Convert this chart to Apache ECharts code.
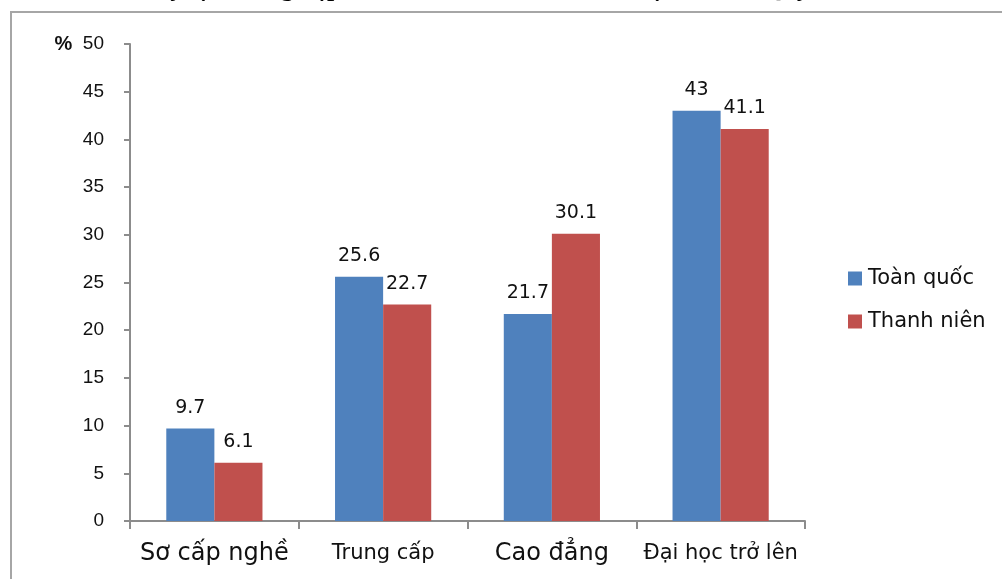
<!DOCTYPE html>
<html>
<head>
<meta charset="utf-8">
<script src="https://cdn.jsdelivr.net/npm/echarts@6/dist/echarts.min.js"></script>
<style>
  html, body { margin: 0; padding: 0; background: #fff; }
  #chart { width: 1002px; height: 579px; }
</style>
</head>
<body>
<div id="chart"></div>
<script>
// Trình độ chuyên môn kỹ thuật
const categories = ['Sơ cấp nghề', 'Trung cấp', 'Cao đẳng', 'Đại học trở lên'];
// Tỷ lệ (%)
const toanQuoc = [9.7, 25.6, 21.7, 43];
const thanhNien = [6.1, 22.7, 30.1, 41.1];
const seriesNames = ['Toàn quốc', 'Thanh niên'];
const yTicks = [0, 5, 10, 15, 20, 25, 30, 35, 40, 45, 50];

const chart = echarts.init(document.getElementById('chart'), null, { renderer: 'canvas' });
const wide = '"DejaVu Sans", sans-serif';
const narrow = '"Liberation Sans", sans-serif';

const labelStyle = {
  show: true,
  position: 'top',
  distance: 11,
  color: '#111',
  fontSize: 19,
  fontFamily: wide
};

chart.setOption({
  animation: false,
  backgroundColor: '#fff',
  graphic: [
    {
      type: 'text',
      left: 62,
      top: -24,
      style: {
        text: 'Hình 3: Tỷ lệ thất nghiệp của thanh niên theo trình độ CMKT, Quý 4 năm 2019',
        font: 'bold 26px "Liberation Serif", serif',
        fill: '#000'
      }
    },
    {
      type: 'rect',
      shape: { x: 11, y: 12, width: 1010, height: 600 },
      style: { fill: 'none', stroke: '#a6a6a6', lineWidth: 2 }
    }
  ],
  legend: {
    orient: 'vertical',
    left: 843,
    top: 263,
    itemGap: 22,
    itemWidth: 14,
    itemHeight: 14,
    icon: 'rect',
    textStyle: { fontSize: 21, color: '#111', fontFamily: wide, padding: [0, 0, 0, 1] },
    data: seriesNames
  },
  grid: { left: 130, right: 197, top: 44, bottom: 58, containLabel: false },
  xAxis: {
    type: 'category',
    data: categories,
    axisLine: { lineStyle: { color: '#8c8c8c', width: 2 } },
    axisTick: { show: true, interval: 0, length: 8, lineStyle: { color: '#8c8c8c', width: 2 } },
    axisLabel: {
      interval: 0,
      margin: 18,
      color: '#111',
      fontFamily: wide,
      fontSize: 21,
      formatter: function (v, i) {
        return (i === 0 || i === 2) ? '{big|' + v + '}' : '{small|' + v + '}';
      },
      rich: {
        big: { fontSize: 24, fontFamily: wide, color: '#111', lineHeight: 30 },
        small: { fontSize: 21, fontFamily: wide, color: '#111', lineHeight: 30 }
      }
    }
  },
  yAxis: {
    type: 'value',
    min: yTicks[0],
    max: yTicks[yTicks.length - 1],
    interval: 5,
    splitLine: { show: false },
    axisLine: { show: true, lineStyle: { color: '#8c8c8c', width: 2 } },
    axisTick: { show: true, length: 6, lineStyle: { color: '#8c8c8c', width: 2 } },
    axisLabel: {
      margin: 26,
      fontSize: 19,
      color: '#111',
      fontFamily: narrow,
      formatter: function (v) { return v === 50 ? '{pct|%}  50' : String(v); },
      rich: {
        pct: { fontSize: 20, fontWeight: 'bold', fontFamily: narrow, color: '#111' }
      }
    }
  },
  series: [
    {
      name: seriesNames[0],
      type: 'bar',
      data: toanQuoc,
      barGap: '0%',
      barCategoryGap: '43%',
      itemStyle: { color: '#4f81bd' },
      label: labelStyle
    },
    {
      name: seriesNames[1],
      type: 'bar',
      data: thanhNien,
      itemStyle: { color: '#c0504d' },
      label: labelStyle
    }
  ]
});
</script>
</body>
</html>
